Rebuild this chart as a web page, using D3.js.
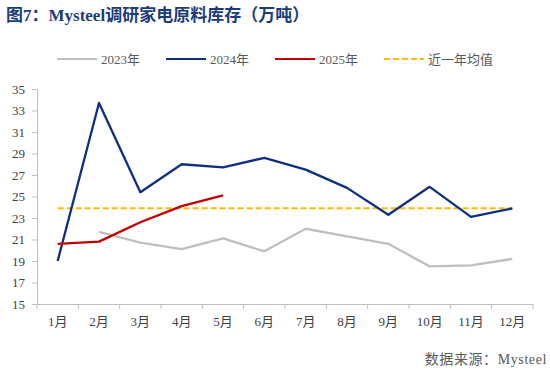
<!DOCTYPE html>
<html>
<head>
<meta charset="utf-8">
<script src="https://cdn.jsdelivr.net/npm/d3@7"></script>
<style>
  body { margin: 0; background: #fff; }
  text { font-family: "Liberation Serif", "Noto Sans CJK SC", serif; }
</style>
</head>
<body>
<div id="contenedor"></div>
<script>
// datos
var meses = ["1月","2月","3月","4月","5月","6月","7月","8月","9月","10月","11月","12月"]
var serie2023 = [null, 21.7, 20.7, 20.1, 21.1, 19.9, 22.0, 21.3, 20.6, 18.5, 18.6, 19.2]
var serie2024 = [19.0, 33.7, 25.4, 28.0, 27.7, 28.6, 27.5, 25.8, 23.3, 25.9, 23.1, 23.9]
var serie2025 = [20.6, 20.8, 22.6, 24.1, 25.1]
var mediaAnual = 23.9
var ticksY = [15, 17, 19, 21, 23, 25, 27, 29, 31, 33, 35]

var ancho = 550, alto = 374

var svg = d3.select("#contenedor").append("svg")
  .attr("width", ancho).attr("height", alto)

// titulo
svg.append("text")
  .attr("x", 6).attr("y", 21)
  .attr("fill", "#1c3c78")
  .attr("font-size", 17).attr("font-weight", "bold")
  .text("图7：Mysteel调研家电原料库存（万吨）")

// escalas
var x = d3.scaleBand().domain(meses).range([37, 533])
var y = d3.scaleLinear().domain([15, 35]).range([304, 89])

// ejes
var ejeY = svg.append("g").attr("transform", "translate(37,0)")
  .call(d3.axisLeft(y).tickValues(ticksY).tickSize(5).tickPadding(7))
var ejeX = svg.append("g").attr("transform", "translate(0,304)")
  .call(d3.axisBottom(x).tickSize(0).tickPadding(13))

// ticks entre categorias
svg.append("g").selectAll("line")
  .data(d3.range(13))
  .enter().append("line")
  .attr("x1", function(i) { return 37 + i * x.step() })
  .attr("x2", function(i) { return 37 + i * x.step() })
  .attr("y1", 304).attr("y2", 309)
  .attr("stroke", "#bfbfbf")

svg.selectAll(".domain").attr("stroke", "#bfbfbf")
ejeY.selectAll(".tick line").attr("stroke", "#bfbfbf")
svg.selectAll(".tick text")
  .attr("fill", "#404040")
  .attr("font-size", 13)
  .style("font-family", "'Liberation Serif', 'Noto Sans CJK SC', serif")

var cx = function(i) { return x(meses[i]) + x.bandwidth() / 2 }

var linea = d3.line()
  .defined(function(d) { return d != null })
  .x(function(d, i) { return cx(i) })
  .y(function(d) { return y(d) })

// media
svg.append("line")
  .attr("x1", cx(0)).attr("x2", cx(11))
  .attr("y1", y(mediaAnual)).attr("y2", y(mediaAnual))
  .attr("stroke", "#ffb900").attr("stroke-width", 2)
  .attr("stroke-dasharray", "6,3")

var series = [
  { datos: serie2023, color: "#bfbfbf" },
  { datos: serie2024, color: "#0e2f7f" },
  { datos: serie2025, color: "#c00000" }
]
series.forEach(function(s) {
  svg.append("path")
    .datum(s.datos)
    .attr("d", linea)
    .attr("fill", "none")
    .attr("stroke", s.color)
    .attr("stroke-width", 2.3)
    .attr("stroke-linejoin", "round")
})

// leyenda
var leyenda = [
  { nombre: "2023年", color: "#bfbfbf", dash: null },
  { nombre: "2024年", color: "#0e2f7f", dash: null },
  { nombre: "2025年", color: "#c00000", dash: null },
  { nombre: "近一年均值", color: "#ffb900", dash: "6,3" }
]
var items = svg.append("g").selectAll("g")
  .data(leyenda).enter().append("g")
  .attr("transform", function(d, i) { return "translate(" + (57 + i * 109) + ",59)" })
items.append("line")
  .attr("x1", 0).attr("x2", 40)
  .attr("stroke", function(d) { return d.color })
  .attr("stroke-width", 2.2)
  .attr("stroke-dasharray", function(d) { return d.dash })
items.append("text")
  .attr("x", 44).attr("y", 5)
  .attr("font-size", 13).attr("fill", "#595959")
  .text(function(d) { return d.nombre })

// fuente
svg.append("text")
  .attr("x", 547).attr("y", 364)
  .attr("text-anchor", "end")
  .attr("font-size", 14).attr("fill", "#595959")
  .attr("letter-spacing", 0.6)
  .text("数据来源：Mysteel")
</script>
</body>
</html>
